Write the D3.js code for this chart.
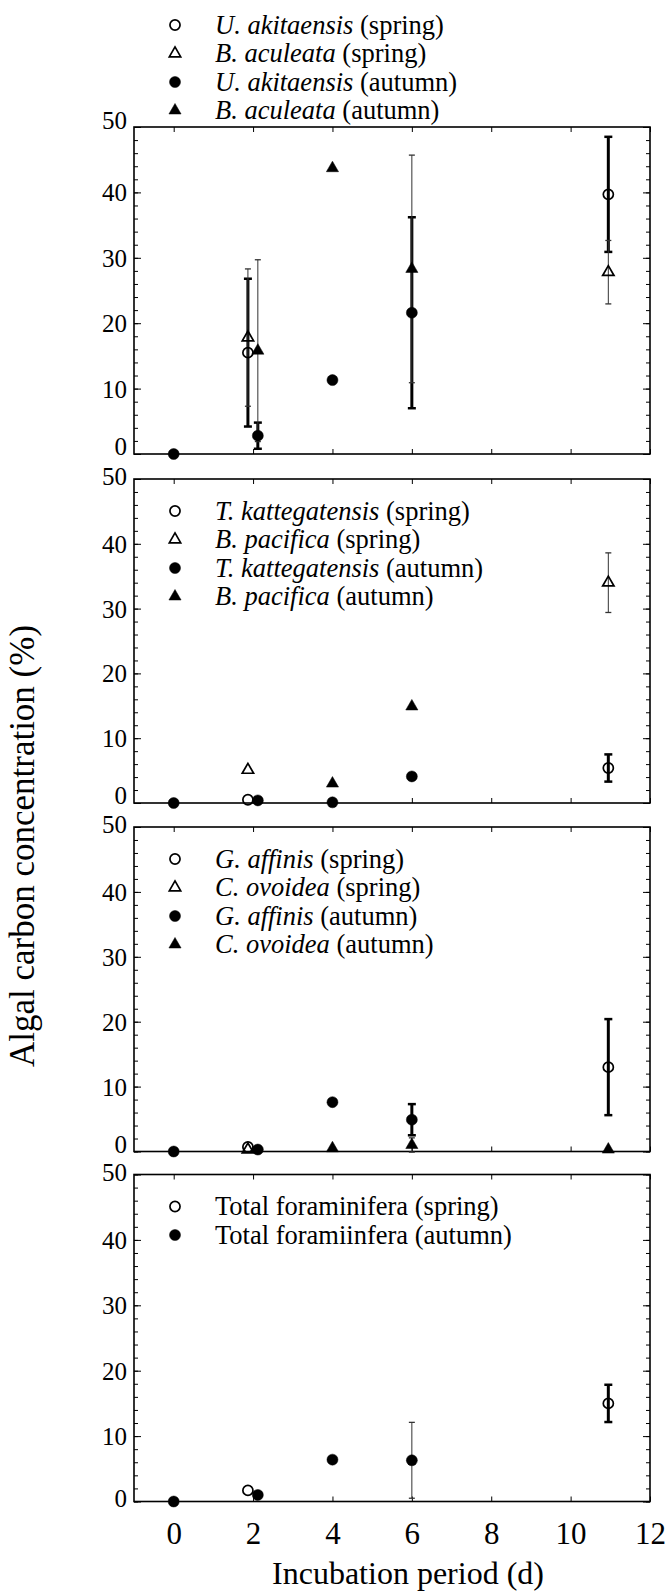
<!DOCTYPE html>
<html>
<head>
<meta charset="utf-8">
<script src="https://cdn.jsdelivr.net/npm/d3@7"></script>
<style>
body { margin: 0; background: #fff; }
#chart text { font-family: "Liberation Serif", "Times New Roman", serif; }
</style>
</head>
<body>
<svg id="chart" width="668" height="1594"></svg>
<script>
// values: [day, mean %, error]
// panel 1
var uAkiSpring = [[1.87, 15.5, 11.3], [10.95, 39.7, 8.8]];
var bAcuSpring = [[1.87, 17.8, 10.5], [10.95, 27.8, 4.85]];
var uAkiAutumn = [[0, 0, 0], [2.12, 2.8, 2.0], [4, 11.3, 0], [6, 21.6, 14.6]];
var bAcuAutumn = [[2.12, 15.8, 13.9], [4, 43.7, 0], [6, 28.3, 17.4]];
// panel 2
var tKatSpring = [[1.87, 0.5, 0], [10.95, 5.4, 2.1]];
var bPacSpring = [[1.87, 5.1, 0], [10.95, 34.0, 4.6]];
var tKatAutumn = [[0, 0, 0], [2.12, 0.4, 0], [4, 0.1, 0], [6, 4.1, 0]];
var bPacAutumn = [[4, 3.0, 0], [6, 14.9, 0]];
// panel 3
var gAffSpring = [[1.87, 0.7, 0], [10.95, 13.0, 7.4]];
var cOvoSpring = [[1.87, 0.3, 0]];
var gAffAutumn = [[0, 0, 0], [2.12, 0.3, 0], [4, 7.6, 0], [6, 4.9, 2.4]];
var cOvoAutumn = [[4, 0.5, 0], [6, 1.0, 1.1], [10.95, 0.3, 0]];
// panel 4
var totSpring = [[1.87, 1.7, 0], [10.95, 15.0, 2.85]];
var totAutumn = [[0, 0, 0], [2.12, 1.0, 0], [4, 6.4, 0], [6, 6.3, 5.8]];

// legend labels: [italic part, roman part]
var legend1 = [['U. akitaensis', ' (spring)'], ['B. aculeata', ' (spring)'], ['U. akitaensis', ' (autumn)'], ['B. aculeata', ' (autumn)']];
var legend2 = [['T. kattegatensis', ' (spring)'], ['B. pacifica', ' (spring)'], ['T. kattegatensis', ' (autumn)'], ['B. pacifica', ' (autumn)']];
var legend3 = [['G. affinis', ' (spring)'], ['C. ovoidea', ' (spring)'], ['G. affinis', ' (autumn)'], ['C. ovoidea', ' (autumn)']];
var legend4 = [['', 'Total foraminifera (spring)'], ['', 'Total foramiinfera (autumn)']];

var xTicks = [0, 2, 4, 6, 8, 10, 12];
var yTicks = [0, 10, 20, 30, 40, 50];

var panels = [
    {series: [uAkiSpring, bAcuSpring, uAkiAutumn, bAcuAutumn], legend: legend1, marks: ['oc', 'ot', 'fc', 'ft'], bars: [3, 1, 3, 1]},
    {series: [tKatSpring, bPacSpring, tKatAutumn, bPacAutumn], legend: legend2, marks: ['oc', 'ot', 'fc', 'ft'], bars: [3, 1, 3, 1]},
    {series: [gAffSpring, cOvoSpring, gAffAutumn, cOvoAutumn], legend: legend3, marks: ['oc', 'ot', 'fc', 'ft'], bars: [3, 1, 3, 1]},
    {series: [totSpring, totAutumn], legend: legend4, marks: ['oc', 'fc'], bars: [3, 1]}
];

var svg = d3.select('#chart');

var left = 134, right = 650;
var panelTops = [127, 479, 827, 1174.5];
var panelBottoms = [454, 803, 1151.5, 1501.5];

var x = d3.scaleLinear().domain([-1, 12]).range([left, right]);

// marker shapes
function marker(sel, kind) {
    var circle = kind[1] == 'c';
    var open = kind[0] == 'o';
    var size = circle ? (open ? 80 : 95) : (open ? 56 : 64);
    sel.append('path')
        .attr('d', d3.symbol().type(circle ? d3.symbolCircle : d3.symbolTriangle).size(size))
        .attr('fill', open ? 'none' : '#000')
        .attr('stroke', '#000')
        .attr('stroke-width', open ? 1.7 : 0.5);
}

function noDomain(g) { g.select('.domain').remove(); }

panels.forEach(function(p, i) {
    var top = panelTops[i];
    var bottom = panelBottoms[i];
    var last = i == panels.length - 1;
    var y = d3.scaleLinear().domain([0, 50]).range([bottom, top]);
    var g = svg.append('g');

    // inward ticks on all four sides
    g.append('g').attr('transform', 'translate(' + left + ',0)')
        .call(d3.axisRight(y).tickValues(d3.range(0, 51, 2)).tickSize(4).tickFormat('')).call(noDomain);
    g.append('g').attr('transform', 'translate(' + left + ',0)')
        .call(d3.axisRight(y).tickValues(yTicks).tickSize(7).tickFormat('')).call(noDomain);
    g.append('g').attr('transform', 'translate(' + right + ',0)')
        .call(d3.axisLeft(y).tickValues(d3.range(0, 51, 2)).tickSize(4).tickFormat('')).call(noDomain);
    g.append('g').attr('transform', 'translate(' + right + ',0)')
        .call(d3.axisLeft(y).tickValues(yTicks).tickSize(7).tickFormat('')).call(noDomain);
    g.append('g').attr('transform', 'translate(0,' + top + ')')
        .call(d3.axisBottom(x).tickValues(xTicks).tickSize(5).tickFormat('')).call(noDomain);
    g.append('g').attr('transform', 'translate(0,' + bottom + ')')
        .call(d3.axisTop(x).tickValues(xTicks).tickSize(5).tickFormat('')).call(noDomain);

    // y labels; 0 and 50 nudged so neighbouring panels' labels do not collide
    var yl = g.append('g').attr('transform', 'translate(' + left + ',0)')
        .call(d3.axisLeft(y).tickValues(yTicks).tickSize(0).tickPadding(7)).call(noDomain);
    yl.attr('font-size', 25);
    yl.selectAll('text').attr('dy', function(d) {
        if (d == 0) return last ? 4.5 : 0.5;
        if (d == 50) return i == 0 ? 1.5 : 5.5;
        return 8.5;
    });

    // frame
    g.append('rect')
        .attr('x', left).attr('y', top)
        .attr('width', right - left).attr('height', bottom - top)
        .attr('fill', 'none').attr('stroke', '#000').attr('stroke-width', 1.6);

    // error bars
    p.series.forEach(function(s, k) {
        var w = p.bars[k];
        var cap = w > 1 ? 4 : 3;
        var col = w > 1 ? '#000' : '#333';
        s.filter(function(d) { return d[2] > 0; }).forEach(function(d) {
            var cx = x(d[0]);
            var y1 = y(d[1] - d[2]), y2 = y(d[1] + d[2]);
            g.append('line').attr('x1', cx).attr('x2', cx).attr('y1', y1).attr('y2', y2)
                .attr('stroke', col).attr('stroke-width', w);
            [y1, y2].forEach(function(yy) {
                g.append('line').attr('x1', cx - cap).attr('x2', cx + cap).attr('y1', yy).attr('y2', yy)
                    .attr('stroke', col).attr('stroke-width', w > 1 ? 2.5 : 1.3);
            });
        });
    });

    // points
    p.series.forEach(function(s, k) {
        g.selectAll(null)
            .data(s)
            .enter()
            .append('g')
            .attr('transform', function(d) { return 'translate(' + x(d[0]) + ',' + y(d[1]) + ')'; })
            .each(function() { marker(d3.select(this), p.marks[k]); });
    });

    // legend
    var rowY = i == 0 ? 25 : top + 32;
    p.legend.forEach(function(l, k) {
        var ly = rowY + k * 28.5;
        marker(g.append('g').attr('transform', 'translate(175,' + ly + ')'), p.marks[k]);
        var t = g.append('text')
            .attr('x', 215).attr('y', ly + 8.5)
            .attr('font-size', 26.5);
        if (l[0]) t.append('tspan').attr('font-style', 'italic').text(l[0]);
        t.append('tspan').text(l[1]);
    });

    if (last) {
        var xl = g.append('g').attr('transform', 'translate(0,' + bottom + ')')
            .call(d3.axisBottom(x).tickValues(xTicks).tickSize(0).tickPadding(20)).call(noDomain);
        xl.attr('font-size', 31);
    }
});

// axis titles
svg.append('text')
    .attr('transform', 'translate(408,1584)')
    .attr('text-anchor', 'middle')
    .attr('font-size', 32)
    .text('Incubation period (d)');

svg.append('text')
    .attr('transform', 'translate(34,846) rotate(-90)')
    .attr('text-anchor', 'middle')
    .attr('font-size', 35)
    .text('Algal carbon concentration (%)');
</script>
</body>
</html>
